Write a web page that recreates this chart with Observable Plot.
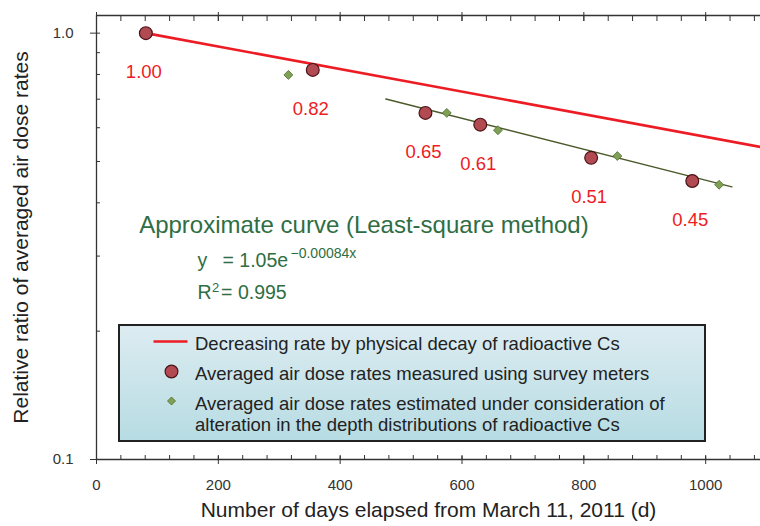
<!DOCTYPE html>
<html><head><meta charset="utf-8">
<script src="https://cdn.jsdelivr.net/npm/d3@7"></script>
<script src="https://cdn.jsdelivr.net/npm/@observablehq/plot@0.6"></script>
<style>
body{margin:0;background:#fff;font-family:"Liberation Sans",Arial,sans-serif;}
#wrap{position:relative;width:760px;height:526px;}
#legend{position:absolute;left:118px;top:324px;width:588px;height:118px;box-sizing:border-box;border:2.5px solid #222;background:linear-gradient(#dcecf1,#b7dce3);}
#legend .row{position:absolute;left:75px;font-size:18.5px;color:#222;line-height:21px;white-space:nowrap;}
#legend svg{position:absolute;left:0;top:0;overflow:visible;}
</style></head>
<body>
<div id="wrap"></div>
<script>
// Measured (survey meters)
const measuredDays = [81, 355, 540, 630, 812, 978];
const measuredRatio = [1.00, 0.82, 0.65, 0.61, 0.51, 0.45];
// Estimated (depth distribution alteration)
const estimatedDays = [315, 575, 659, 855, 1022];
const estimatedRatio = [0.798, 0.650, 0.592, 0.515, 0.441];
// Physical decay line endpoints
const decayDays = [81, 1090];
const decayRatio = [1.0, 0.541];
// Least-square fit line endpoints
const fitDays = [475, 1043];
const fitRatio = [0.701, 0.436];
// Ticks
const xMajor = [0, 200, 400, 600, 800, 1000];
const xMinor = d3.range(0, 1090, 40);
const yMajor = [0.1, 1.0];
const yMinor = [0.2, 0.3, 0.4, 0.5, 0.6, 0.7, 0.8, 0.9];
const xTitle = "Number of days elapsed from March 11, 2011 (d)";
const yTitle = "Relative ratio of averaged air dose rates";
const legendLabels = [
  "Decreasing rate by physical decay of radioactive Cs",
  "Averaged air dose rates measured using survey meters",
  "Averaged air dose rates estimated under consideration of",
  "alteration in the depth distributions of radioactive Cs"
];

const measured = measuredDays.map((d, i) => ({x: d, y: measuredRatio[i]}));
const estimated = estimatedDays.map((d, i) => ({x: d, y: estimatedRatio[i]}));
const decay = decayDays.map((d, i) => ({x: d, y: decayRatio[i]}));
const fit = fitDays.map((d, i) => ({x: d, y: fitRatio[i]}));

const red = "#ed1c24", green = "#2f6e43", axisColor = "#333";
const noText = () => "";

const plot = Plot.plot({
  width: 760, height: 526,
  marginLeft: 96, marginRight: 0, marginTop: 15, marginBottom: 67,
  style: {fontFamily: "'Liberation Sans', Arial, sans-serif", color: axisColor, background: "#fff", overflow: "visible"},
  x: {domain: [0, 1090]},
  y: {type: "log", domain: [0.1, 1.1]},
  marks: [
    Plot.ruleX([0], {stroke: axisColor, strokeWidth: 1.3}),
    Plot.ruleY([0.1, 1.1], {stroke: axisColor, strokeWidth: 1.3}),
    // y ticks
    Plot.axisY({ticks: yMajor, tickSize: 10, dx: 4, tickFormat: noText, label: null, stroke: axisColor}),
    Plot.axisY({ticks: yMinor, tickSize: 4, dx: 4, tickFormat: noText, label: null, stroke: axisColor}),
    Plot.axisY({ticks: yMajor, tickSize: 0, tickPadding: 23, tickFormat: d3.format(".1f"), fontSize: 15, label: null}),
    // x ticks bottom
    Plot.axisX({anchor: "bottom", ticks: xMajor, tickSize: 8, dy: -3, tickFormat: noText, label: null}),
    Plot.axisX({anchor: "bottom", ticks: xMinor, tickSize: 4, dy: -4, tickFormat: noText, label: null}),
    Plot.axisX({anchor: "bottom", ticks: xMajor, tickSize: 0, tickPadding: 20, fontSize: 15, tickFormat: d3.format("d"), label: null}),
    // x ticks top
    Plot.axisX({anchor: "top", ticks: xMajor, tickSize: 9, dy: 5, tickFormat: noText, label: null}),
    Plot.axisX({anchor: "top", ticks: xMinor, tickSize: 5, dy: 5, tickFormat: noText, label: null}),
    // axis titles
    Plot.text([yTitle], {frameAnchor: "left", textAnchor: "middle", text: d => d, rotate: -90, dx: -75, fontSize: 21, fill: "#222"}),
    Plot.text([xTitle], {frameAnchor: "bottom", textAnchor: "middle", text: d => d, dy: 57, fontSize: 21, fill: "#222"}),
    // lines
    Plot.line(decay, {x: "x", y: "y", stroke: red, strokeWidth: 2.6}),
    Plot.line(fit, {x: "x", y: "y", stroke: "#4b5a2b", strokeWidth: 1.5}),
    // points
    Plot.dot(estimated, {x: "x", y: "y", symbol: "diamond2", r: 4, fill: "#7fa055", stroke: "#4a6a2a", strokeWidth: 0.8}),
    Plot.dot(measured, {x: "x", y: "y", r: 6.4, fill: "#b24a51", stroke: "#4a1418", strokeWidth: 1.2}),
    Plot.text(measured, {x: "x", y: "y", text: d => d.y.toFixed(2), dy: 39, dx: -2, fill: red, fontSize: 18.5}),
    // annotation
    Plot.text(["Approximate curve (Least-square method)"], {x: 70, y: 0.3538, text: d => d, textAnchor: "start", fill: green, fontSize: 24}),
    Plot.text(["y"], {x: 165.8, y: 0.2928, text: d => d, textAnchor: "start", fill: green, fontSize: 19.5}),
    Plot.text(["= 1.05e"], {x: 206.8, y: 0.2928, text: d => d, textAnchor: "start", fill: green, fontSize: 19.5}),
    Plot.text(["\u22120.00084x"], {x: 318.5, y: 0.3042, text: d => d, textAnchor: "start", fill: green, fontSize: 14}),
    Plot.text(["R"], {x: 165.8, y: 0.2464, text: d => d, textAnchor: "start", fill: green, fontSize: 19.5}),
    Plot.text(["2"], {x: 189.5, y: 0.2531, text: d => d, textAnchor: "start", fill: green, fontSize: 13}),
    Plot.text(["= 0.995"], {x: 204.5, y: 0.2464, text: d => d, textAnchor: "start", fill: green, fontSize: 19.5})
  ]
});

const wrap = document.getElementById("wrap");
wrap.appendChild(plot);

// Legend (HTML overlay)
const legend = document.createElement("div");
legend.id = "legend";
const rowTops = [7, 37, 67, 88];
legendLabels.forEach((t, i) => {
  const r = document.createElement("div");
  r.className = "row";
  r.style.top = rowTops[i] + "px";
  r.textContent = t;
  legend.appendChild(r);
});
const ns = "http://www.w3.org/2000/svg";
const sv = document.createElementNS(ns, "svg");
sv.setAttribute("width", 80); sv.setAttribute("height", 110);
sv.innerHTML = `
  <line x1="33.5" x2="67.5" y1="15.5" y2="15.5" stroke="${red}" stroke-width="2.6"/>
  <circle cx="51.5" cy="45.5" r="6.4" fill="#b24a51" stroke="#4a1418" stroke-width="1.2"/>
  <path d="M51.5,71 L55.5,75 L51.5,79 L47.5,75 Z" fill="#7fa055" stroke="#4a6a2a" stroke-width="0.8"/>`;
legend.appendChild(sv);
wrap.appendChild(legend);
</script>
</body></html>
